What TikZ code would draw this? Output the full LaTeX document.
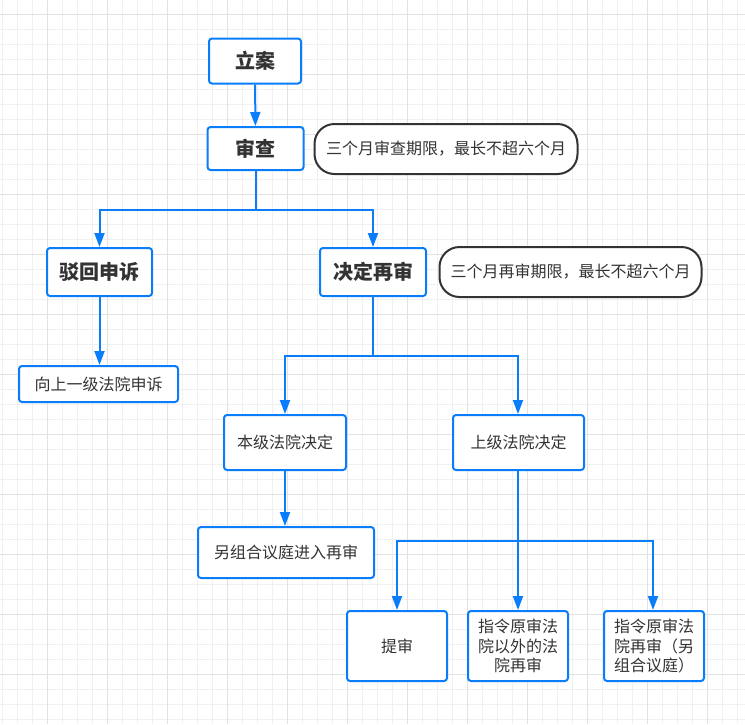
\documentclass[tikz,border=0pt]{standalone}
\usepackage{fontspec}
\setmainfont{Noto Sans CJK SC}[Kerning=Off]
\usetikzlibrary{arrows.meta}
\definecolor{flowblue}{HTML}{0A7EFA}
\definecolor{txt}{HTML}{333333}
\definecolor{gridminor}{HTML}{F0F0F0}
\definecolor{gridmajor}{HTML}{E2E2E2}
\tikzset{
  box/.style={draw=flowblue, line width=2pt, rounded corners=3pt, fill=white, text=txt, inner sep=0pt, align=center},
  bigbox/.style={box, font=\fontsize{20}{24}\selectfont\bfseries},
  smallbox/.style={box, font=\fontsize{16}{19.5}\selectfont},
  notebox/.style={draw=txt, line width=2pt, rounded corners=20pt, fill=white, text=txt, inner sep=0pt, font=\fontsize{16}{19}\selectfont},
  arr/.style={draw=flowblue, line width=2pt, -{Triangle[length=14pt,width=10pt]}},
  lnk/.style={draw=flowblue, line width=2pt}
}
\begin{document}
\begin{tikzpicture}[x=1pt,y=-1pt]
\useasboundingbox (0,0) rectangle (745,724);
\fill[white] (0,0) rectangle (745,724);
% grid
\foreach \gx in {2,17,...,745} {\draw[gridminor, line width=1pt] (\gx,0) -- (\gx,724);}
\foreach \gy in {-1,14,...,724} {\draw[gridminor, line width=1pt] (0,\gy) -- (745,\gy);}
\foreach \gx in {47,107,...,745} {\draw[gridmajor, line width=1pt] (\gx,0) -- (\gx,724);}
\foreach \gy in {14,74,...,724} {\draw[gridmajor, line width=1pt] (0,\gy) -- (745,\gy);}

% nodes
\node[bigbox, minimum width=92pt, minimum height=45pt] (lian) at (255,61) {立案};
\node[bigbox, minimum width=96pt, minimum height=43pt] (shencha) at (255.5,148.5) {审查};
\node[notebox, minimum width=263pt, minimum height=50pt] (note1) at (446,149) {三个月审查期限，最长不超六个月};
\node[bigbox, minimum width=105pt, minimum height=48pt] (bohui) at (99.5,272) {驳回申诉};
\node[bigbox, minimum width=106pt, minimum height=48pt] (jueding) at (373,272) {决定再审};
\node[notebox, minimum width=262pt, minimum height=50pt] (note2) at (570.5,272) {三个月再审期限，最长不超六个月};
\node[smallbox, minimum width=159pt, minimum height=36pt] (xiangshang) at (98.5,384) {向上一级法院申诉};
\node[smallbox, minimum width=122pt, minimum height=55pt] (benji) at (285,442.5) {本级法院决定};
\node[smallbox, minimum width=131pt, minimum height=55pt] (shangji) at (518.5,442.5) {上级法院决定};
\node[smallbox, minimum width=176pt, minimum height=51pt] (lingzu) at (286,552.5) {另组合议庭进入再审};
\node[smallbox, minimum width=100pt, minimum height=70pt] (tishen) at (397,646) {提审};
\node[smallbox, minimum width=100pt, minimum height=70pt] (zl1) at (518,646) {指令原审法\\院以外的法\\院再审};
\node[smallbox, minimum width=100pt, minimum height=70pt] (zl2) at (654,646) {指令原审法\\院再审（另\\组合议庭）};

% junctions
\coordinate (j1) at (256,210);
\coordinate (j2) at (373,356);
\coordinate (j3) at (518,541);

% connectors
\draw[arr] (lian) -- (shencha);
\draw[lnk] (shencha.south -| j1) -- (j1);
\draw[arr] (j1) -| (bohui.north);
\draw[arr] (j1) -| (jueding.north);
\draw[arr] (bohui) -- (bohui |- xiangshang.north);
\draw[lnk] (jueding) -- (j2);
\draw[arr] (j2) -| (benji.north);
\draw[arr] (j2) -| (shangji.north -| j3);
\draw[arr] (benji) -- (benji |- lingzu.north);
\draw[lnk] (shangji.south -| j3) -- (j3);
\draw[arr] (j3) -| (tishen.north);
\draw[arr] (j3) -- (zl1.north);
\draw[arr] (j3) -| ([xshift=-1pt]zl2.north);
\end{tikzpicture}
\end{document}
